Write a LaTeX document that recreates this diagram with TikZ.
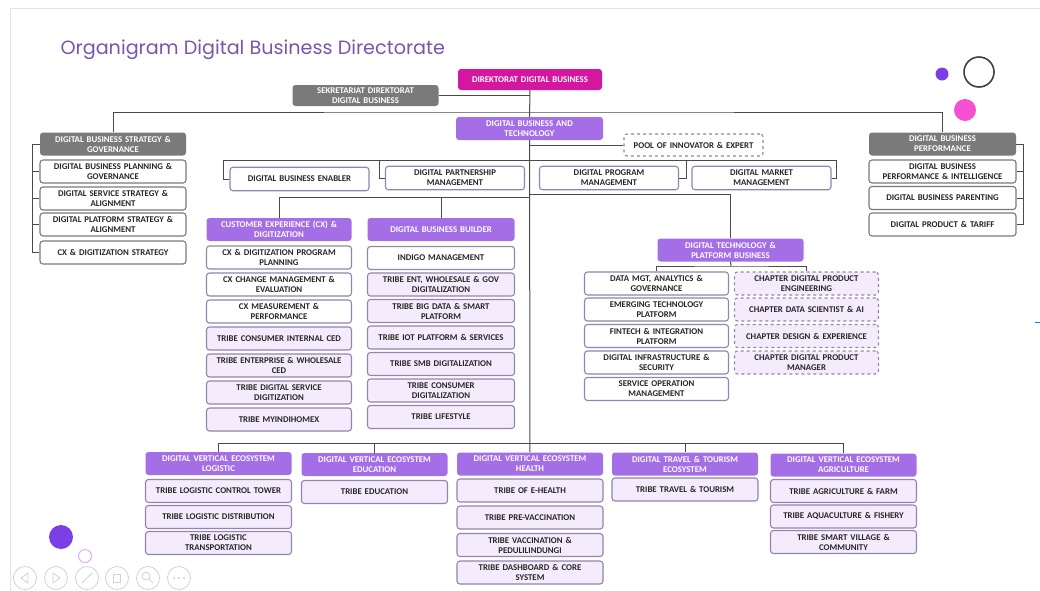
\documentclass[tikz,border=0pt]{standalone}
\usepackage{fontspec}
\setmainfont{Carlito}
\newfontfamily\titlefont{Poppins}

\definecolor{magentahd}{HTML}{D4179E}
\definecolor{purplehd}{HTML}{A46FE6}
\definecolor{grayhd}{HTML}{7A7A7A}
\definecolor{lavender}{HTML}{F4ECFC}
\definecolor{boxline}{HTML}{9483AD}
\definecolor{titlecol}{HTML}{7856A8}
\definecolor{linecol}{HTML}{4A4A4A}
\definecolor{dotpurple}{HTML}{7B3FE4}
\definecolor{dotpink}{HTML}{F54FD2}

\begin{document}
\begin{tikzpicture}[x=1pt,y=-1pt,
    box/.style={rounded corners=3pt, minimum width=146pt, minimum height=23pt,
      text width=137pt, align=center, inner sep=1pt,
      font=\bfseries\fontsize{8.8}{10}\selectfont},
    whitebox/.style={box, draw=boxline, line width=1.1pt, fill=white, text=black!85},
    sidebox/.style={whitebox, draw=grayhd},
    tribebox/.style={whitebox, fill=lavender},
    chapterbox/.style={tribebox, dashed},
    purplebox/.style={box, fill=purplehd, text=white},
    graybox/.style={box, fill=grayhd, text=white},
    link/.style={draw=linecol, line width=1pt}]

  \useasboundingbox (0,0) rectangle (1040,590);
  \draw[gray!20] (10,592) -- (10,8) -- (1042,8);

  \node[anchor=west, text=titlecol, font=\titlefont\fontsize{19.2}{22}\selectfont]
    (title) at (57,50) {Organigram Digital Business Directorate};

  % decorations
  \fill[dotpurple] (942,74) circle (6.5);
  \draw[black!75, line width=1.6pt] (979,72) circle (15);
  \fill[dotpink] (965,110) circle (11);
  \fill[dotpurple] (61,537) circle (12);
  \draw[dotpink!50!dotpurple!45, line width=1pt] (85,556) circle (6.5);
  \draw[cyan!70!blue, line width=1pt] (1035,322) -- (1040,322);

  % player buttons
  \begin{scope}[gray!35, line width=0.8pt]
    \foreach \x in {25,56,87,117,148,179}
      \draw (\x,578) circle (11.5);
    \draw (28,573) -- (21,578) -- (28,583) -- cycle;
    \draw (53,573) -- (60,578) -- (53,583) -- cycle;
    \draw (82,583) -- (92,573);
    \draw (113,574) rectangle (120,582);
    \draw (146,576) circle (4) (149,579) -- (153,583);
    \foreach \x in {174,179,184}
      \fill (\x,578) circle (1.2);
  \end{scope}

  % top
  \node[box, fill=magentahd, text=white, minimum width=144pt, minimum height=21pt] (dir) at (530,79.5) {DIREKTORAT DIGITAL BUSINESS};
  \node[graybox, minimum height=21pt] (sek) at (365.5,95.5) {SEKRETARIAT DIREKTORAT\\DIGITAL BUSINESS};
  \node[purplebox, minimum width=147pt] (dbt) at (529.5,128.5) {DIGITAL BUSINESS AND\\TECHNOLOGY};
  \node[whitebox, dashed, minimum width=139pt, minimum height=22pt, text width=132pt] (pool) at (693.5,145) {POOL OF INNOVATOR \& EXPERT};

  % left column
  \node[graybox] (l0) at (113,144) {DIGITAL BUSINESS STRATEGY \&\\GOVERNANCE};
  \begin{scope}[every node/.style={sidebox}]
    \node (l1) at (113,171.5) {DIGITAL BUSINESS PLANNING \&\\GOVERNANCE};
    \node (l2) at (113,198.5) {DIGITAL SERVICE STRATEGY \&\\ALIGNMENT};
    \node (l3) at (113,224.5) {DIGITAL PLATFORM STRATEGY \&\\ALIGNMENT};
    \node (l4) at (113,252.5) {CX \& DIGITIZATION STRATEGY};
  \end{scope}

  % right column
  \node[graybox, minimum width=147pt] (r0) at (942.5,144) {DIGITAL BUSINESS\\PERFORMANCE};
  \begin{scope}[every node/.style={sidebox, minimum width=147pt}]
    \node (r1) at (942.5,171.5) {DIGITAL BUSINESS\\PERFORMANCE \& INTELLIGENCE};
    \node (r2) at (942.5,198) {DIGITAL BUSINESS PARENTING};
    \node (r3) at (942.5,224.5) {DIGITAL PRODUCT \& TARIFF};
  \end{scope}

  % second level
  \begin{scope}[every node/.style={whitebox, minimum width=139pt, minimum height=23.5pt, text width=132pt}]
    \node (m1) at (299.5,179) {DIGITAL BUSINESS ENABLER};
    \node (m2) at (455,178) {DIGITAL PARTNERSHIP\\MANAGEMENT};
    \node (m3) at (609,178) {DIGITAL PROGRAM\\MANAGEMENT};
    \node (m4) at (761.5,178) {DIGITAL MARKET\\MANAGEMENT};
  \end{scope}

  % customer experience
  \node[purplebox, minimum width=145pt] (c0) at (279,229.5) {CUSTOMER EXPERIENCE (CX) \&\\DIGITIZATION};
  \begin{scope}[every node/.style={whitebox, minimum width=145pt}]
    \node (c1) at (279,257.5) {CX \& DIGITIZATION PROGRAM\\PLANNING};
    \node (c2) at (279,284.5) {CX CHANGE MANAGEMENT \&\\EVALUATION};
    \node (c3) at (279,311.5) {CX MEASUREMENT \&\\PERFORMANCE};
  \end{scope}
  \begin{scope}[every node/.style={tribebox, minimum width=145pt}]
    \node (c4) at (279,338.5) {TRIBE CONSUMER INTERNAL CED};
    \node (c5) at (279,365.5) {TRIBE ENTERPRISE \& WHOLESALE\\CED};
    \node (c6) at (279,392.5) {TRIBE DIGITAL SERVICE\\DIGITIZATION};
    \node (c7) at (279,419.5) {TRIBE MYINDIHOMEX};
  \end{scope}

  % business builder
  \node[purplebox, minimum width=147pt] (b0) at (441,229.5) {DIGITAL BUSINESS BUILDER};
  \node[whitebox, minimum width=147pt] (b1) at (441,258) {INDIGO MANAGEMENT};
  \begin{scope}[every node/.style={tribebox, minimum width=147pt}]
    \node (b2) at (441,284.5) {TRIBE ENT, WHOLESALE \& GOV\\DIGITALIZATION};
    \node (b3) at (441,311) {TRIBE BIG DATA \& SMART\\PLATFORM};
    \node (b4) at (441,337.5) {TRIBE IOT PLATFORM \& SERVICES};
    \node (b5) at (441,364) {TRIBE SMB DIGITALIZATION};
    \node (b6) at (441,390.5) {TRIBE CONSUMER\\DIGITALIZATION};
    \node (b7) at (441,417) {TRIBE LIFESTYLE};
  \end{scope}

  % technology & platform
  \node[purplebox] (t0) at (730.5,250) {DIGITAL TECHNOLOGY \&\\PLATFORM BUSINESS};
  \begin{scope}[every node/.style={whitebox, minimum width=144pt}]
    \node (t1) at (656.5,283.5) {DATA MGT, ANALYTICS \&\\GOVERNANCE};
    \node (t2) at (656.5,309.5) {EMERGING TECHNOLOGY\\PLATFORM};
    \node (t3) at (656.5,336) {FINTECH \& INTEGRATION\\PLATFORM};
    \node (t4) at (656.5,362.5) {DIGITAL INFRASTRUCTURE \&\\SECURITY};
    \node (t5) at (656.5,389) {SERVICE OPERATION\\MANAGEMENT};
  \end{scope}
  \begin{scope}[every node/.style={chapterbox, minimum width=144pt}]
    \node (t6) at (806.5,283.5) {CHAPTER DIGITAL PRODUCT\\ENGINEERING};
    \node (t7) at (806.5,309.5) {CHAPTER DATA SCIENTIST \& AI};
    \node (t8) at (806.5,336) {CHAPTER DESIGN \& EXPERIENCE};
    \node (t9) at (806.5,362.5) {CHAPTER DIGITAL PRODUCT\\MANAGER};
  \end{scope}

  % vertical ecosystems
  \begin{scope}[every node/.style={purplebox}]
    \node (v1) at (218.5,463.5) {DIGITAL VERTICAL ECOSYSTEM\\LOGISTIC};
    \node (v2) at (374.5,464.5) {DIGITAL VERTICAL ECOSYSTEM\\EDUCATION};
    \node (v3) at (530,464) {DIGITAL VERTICAL ECOSYSTEM\\HEALTH};
    \node (v4) at (685,464) {DIGITAL TRAVEL \& TOURISM\\ECOSYSTEM};
    \node (v5) at (843.5,465) {DIGITAL VERTICAL ECOSYSTEM\\AGRICULTURE};
  \end{scope}
  \begin{scope}[every node/.style={tribebox}]
    \node (v11) at (218.5,491) {TRIBE LOGISTIC CONTROL TOWER};
    \node (v12) at (218.5,517) {TRIBE LOGISTIC DISTRIBUTION};
    \node (v13) at (218.5,543) {TRIBE LOGISTIC\\TRANSPORTATION};
    \node (v21) at (374.5,492) {TRIBE EDUCATION};
    \node (v31) at (530,490.5) {TRIBE OF E-HEALTH};
    \node (v32) at (530,517.5) {TRIBE PRE-VACCINATION};
    \node (v33) at (530,545) {TRIBE VACCINATION \&\\PEDULILINDUNGI};
    \node (v34) at (530,572.5) {TRIBE DASHBOARD \& CORE\\SYSTEM};
    \node (v41) at (685,489.5) {TRIBE TRAVEL \& TOURISM};
    \node (v51) at (843.5,491) {TRIBE AGRICULTURE \& FARM};
    \node (v52) at (843.5,516.5) {TRIBE AQUACULTURE \& FISHERY};
    \node (v53) at (843.5,542) {TRIBE SMART VILLAGE \&\\COMMUNITY};
  \end{scope}

  % connectors
  \coordinate (bus0) at (530,112);
  \coordinate (bus1) at (530,160);
  \coordinate (bus2) at (530,197);
  \coordinate (bus3) at (530,194);
  \coordinate (bus4) at (731,266);
  \coordinate (bus5) at (530,443);

  \begin{scope}[every path/.style={link}]
    \path (dir) edge (dbt);
    \path (dbt) edge (v3);
    \path (sek.east) edge (sek.east -| dir);
    \path (pool.west) edge (pool.west -| dbt);
    \draw (l0.north) |- (bus0) -| (r0.north);
    \foreach \i in {1,...,4}
      \draw (l\i.west) -- ++(-7,0) |- (l0.west);
    \foreach \i in {1,2,3}
      \draw (r\i.east) -- ++(7,0) |- (r0.east);
    \draw (m1.west) -- ++(-6,0) |- (bus1);
    \draw (m2.west) -- ++(-5,0) |- (bus1);
    \draw (m3.east) -- ++(7,0) |- (bus1);
    \draw (m4.east) -- ++(5,0) |- (bus1);
    \draw (c0.north) |- (bus2);
    \draw (b0.north) |- (bus2);
    \draw (t0.north) |- (bus3);
    \path (t0.south) edge (bus4);
    \draw (t1.north) |- (bus4) -| (t6.north);
    \draw (v1.north) |- (bus5) -| (v5.north);
    \path (v2.north) edge (v2.north |- bus5);
    \path (v4.north) edge (v4.north |- bus5);
  \end{scope}

\end{tikzpicture}
\end{document}
